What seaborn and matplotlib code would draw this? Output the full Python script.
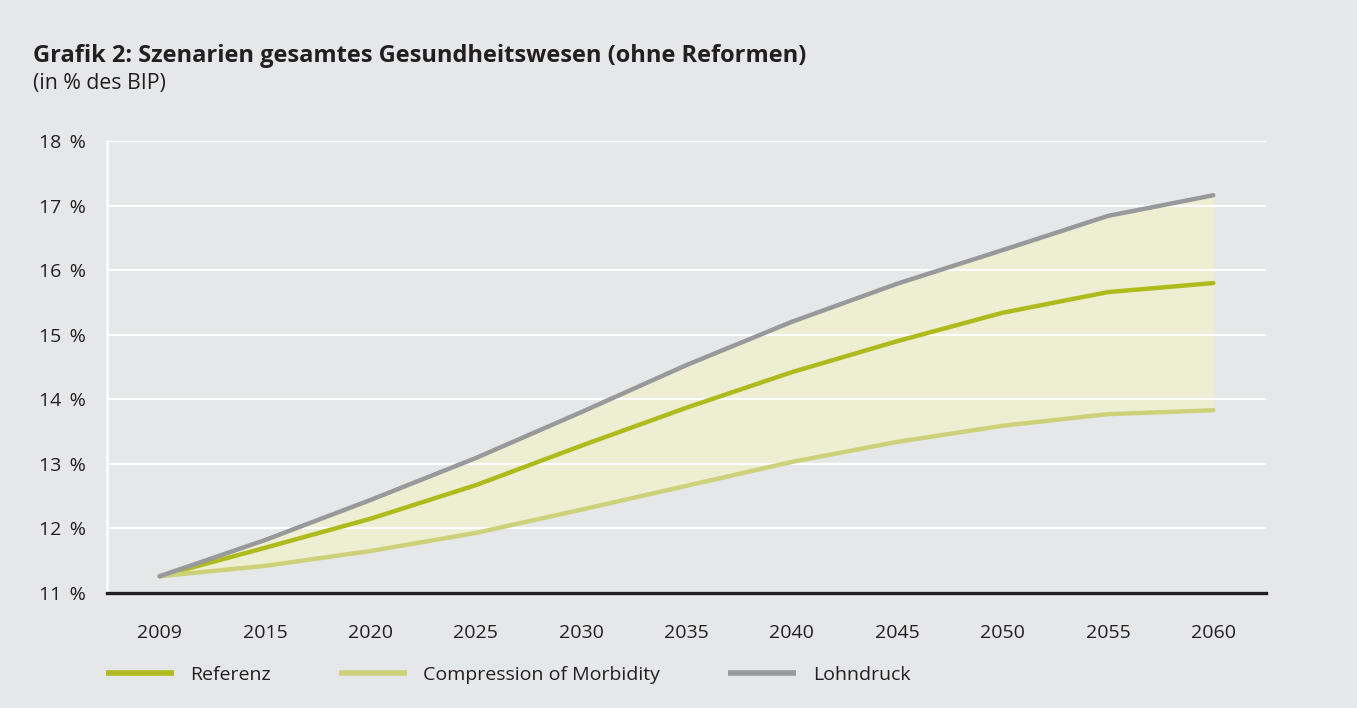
import numpy as np
import pandas as pd
import matplotlib
matplotlib.use("Agg")
import matplotlib.pyplot as plt
import seaborn as sns

years = ["2009", "2015", "2020", "2025", "2030", "2035", "2040", "2045", "2050", "2055", "2060"]
referenz = [11.26, 11.70, 12.15, 12.67, 13.28, 13.87, 14.42, 14.90, 15.34, 15.66, 15.80]
compression = [11.26, 11.42, 11.65, 11.93, 12.29, 12.66, 13.03, 13.34, 13.59, 13.77, 13.83]
lohndruck = [11.26, 11.82, 12.44, 13.09, 13.80, 14.53, 15.20, 15.79, 16.31, 16.84, 17.16]
series_names = ["Referenz", "Compression of Morbidity", "Lohndruck"]
y_ticks = [11, 12, 13, 14, 15, 16, 17, 18]

BG = "#e6e7e8"
colors = {"Referenz": "#afbb1c", "Compression of Morbidity": "#cdd27a", "Lohndruck": "#98999b"}
FILL = "#edeed2"
TXT = "#231f20"

sns.set_theme(style="white")
plt.rcParams["font.family"] = ["Open Sans", "DejaVu Sans"]

pos = np.arange(len(years))
df = pd.DataFrame({
    "pos": np.tile(pos, 3),
    "value": referenz + compression + lohndruck,
    "series": np.repeat(series_names, len(years)),
})

fig = plt.figure(figsize=(13.57, 7.08), dpi=100, facecolor=BG)
ax = fig.add_axes([107/1357, 1 - 593/708, (1266-107)/1357, (593-141)/708])
ax.set_facecolor(BG)

ax.fill_between(pos, compression, lohndruck, color=FILL, linewidth=0, zorder=1)
for y in y_ticks[1:]:
    ax.axhline(y, color="white", lw=1.6, zorder=2)

sns.lineplot(data=df, x="pos", y="value", hue="series", hue_order=series_names,
             palette=colors, linewidth=3.2, ax=ax, legend=False, zorder=3)

ax.set_xlim(-0.5, len(years) - 0.5)
ax.set_ylim(11, 18)
ax.set_xticks(pos)
ax.set_xticklabels(years)
ax.set_yticks(y_ticks)
ax.set_yticklabels([f"{v} \u2009%" for v in y_ticks])
ax.tick_params(axis="both", length=0, labelsize=14, colors=TXT)
ax.tick_params(axis="x", pad=22)
ax.tick_params(axis="y", pad=15)
ax.set_xlabel("")
ax.set_ylabel("")
for s in ["top", "right"]:
    ax.spines[s].set_visible(False)
ax.spines["left"].set_color("white")
ax.spines["left"].set_linewidth(1.8)
ax.spines["bottom"].set_color(TXT)
ax.spines["bottom"].set_linewidth(2.4)
ax.spines["bottom"].set_zorder(5)

fig.text(33/1357, 1 - 56/708, "Grafik 2: Szenarien gesamtes Gesundheitswesen (ohne Reformen)",
         fontsize=17, fontweight="bold", color=TXT, va="center", ha="left")
fig.text(33/1357, 1 - 83/708, "(in % des BIP)", fontsize=15.3, color=TXT, va="center", ha="left")

handles = [plt.Line2D([], [], color=colors[n], lw=4, solid_capstyle="butt") for n in series_names]
fig.legend(handles, series_names, loc="center left", bbox_to_anchor=(88/1357, 1 - 675/708),
           ncol=3, frameon=False, fontsize=14, handlelength=3.5, handletextpad=0.85,
           columnspacing=3.5, labelcolor=TXT)

fig.savefig("out.png", dpi=100, facecolor=BG)
